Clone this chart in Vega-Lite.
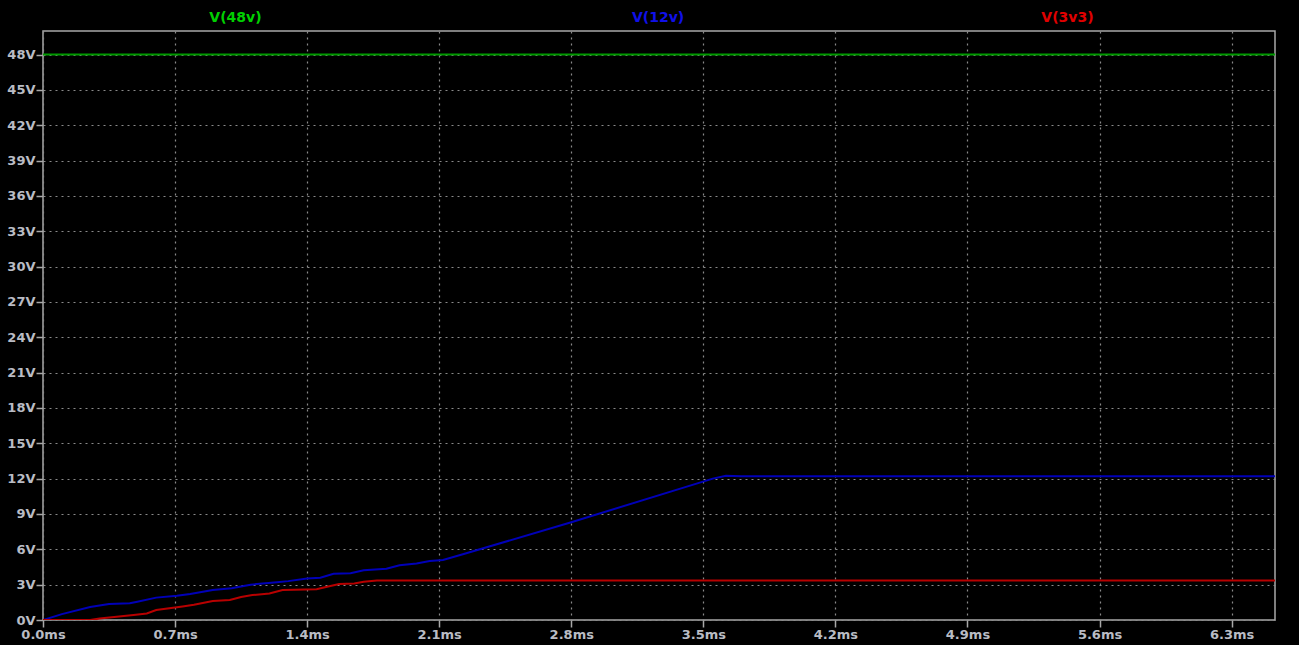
{
  "$schema": "https://vega.github.io/schema/vega-lite/v6.json",
  "autosize": {"type": "none"},
  "width": 1232,
  "height": 589,
  "padding": {"left": 43, "top": 31, "right": 24, "bottom": 25},
  "background": "#000000",
  "config": {
    "view": {"stroke": "#a8a8a8", "strokeWidth": 1.5, "fill": "#000000"},
    "axis": {
      "labelFont": "DejaVu Sans",
      "labelFontWeight": "bold",
      "labelFontSize": 13,
      "labelColor": "#b9bcc4",
      "labelOverlap": false,
      "tickColor": "#a8a8a8",
      "tickWidth": 1.5,
      "domain": false,
      "gridColor": "#8a8a8a",
      "gridDash": [2, 4],
      "gridWidth": 1.2,
      "title": null
    }
  },
  "datasets": {
    "traces": [
      {"s": "V(48v)", "t": 0, "v": 48},
      {"s": "V(48v)", "t": 6.53, "v": 48},
      {"s": "V(12v)", "t": 0, "v": 0},
      {"s": "V(12v)", "t": 0.1, "v": 0.5},
      {"s": "V(12v)", "t": 0.25, "v": 1.1},
      {"s": "V(12v)", "t": 0.35, "v": 1.35},
      {"s": "V(12v)", "t": 0.46, "v": 1.42},
      {"s": "V(12v)", "t": 0.5, "v": 1.55},
      {"s": "V(12v)", "t": 0.6, "v": 1.9},
      {"s": "V(12v)", "t": 0.71, "v": 2.05},
      {"s": "V(12v)", "t": 0.78, "v": 2.2},
      {"s": "V(12v)", "t": 0.9, "v": 2.55},
      {"s": "V(12v)", "t": 1.0, "v": 2.7},
      {"s": "V(12v)", "t": 1.1, "v": 3.0},
      {"s": "V(12v)", "t": 1.24, "v": 3.2},
      {"s": "V(12v)", "t": 1.3, "v": 3.3},
      {"s": "V(12v)", "t": 1.4, "v": 3.52},
      {"s": "V(12v)", "t": 1.47, "v": 3.58},
      {"s": "V(12v)", "t": 1.54, "v": 3.92},
      {"s": "V(12v)", "t": 1.63, "v": 3.97},
      {"s": "V(12v)", "t": 1.7, "v": 4.22},
      {"s": "V(12v)", "t": 1.82, "v": 4.35},
      {"s": "V(12v)", "t": 1.89, "v": 4.65},
      {"s": "V(12v)", "t": 1.98, "v": 4.8},
      {"s": "V(12v)", "t": 2.05, "v": 5.0},
      {"s": "V(12v)", "t": 2.12, "v": 5.1},
      {"s": "V(12v)", "t": 2.23, "v": 5.6},
      {"s": "V(12v)", "t": 2.8, "v": 8.3},
      {"s": "V(12v)", "t": 3.55, "v": 12.0},
      {"s": "V(12v)", "t": 3.62, "v": 12.25},
      {"s": "V(12v)", "t": 3.7, "v": 12.2},
      {"s": "V(12v)", "t": 6.53, "v": 12.2},
      {"s": "V(3v3)", "t": 0, "v": 0},
      {"s": "V(3v3)", "t": 0.25, "v": 0},
      {"s": "V(3v3)", "t": 0.3, "v": 0.12},
      {"s": "V(3v3)", "t": 0.48, "v": 0.42},
      {"s": "V(3v3)", "t": 0.55, "v": 0.55},
      {"s": "V(3v3)", "t": 0.6, "v": 0.85},
      {"s": "V(3v3)", "t": 0.74, "v": 1.15},
      {"s": "V(3v3)", "t": 0.8, "v": 1.3},
      {"s": "V(3v3)", "t": 0.9, "v": 1.62},
      {"s": "V(3v3)", "t": 0.99, "v": 1.7},
      {"s": "V(3v3)", "t": 1.05, "v": 1.95},
      {"s": "V(3v3)", "t": 1.11, "v": 2.12},
      {"s": "V(3v3)", "t": 1.2, "v": 2.25},
      {"s": "V(3v3)", "t": 1.27, "v": 2.54},
      {"s": "V(3v3)", "t": 1.45, "v": 2.62},
      {"s": "V(3v3)", "t": 1.5, "v": 2.8},
      {"s": "V(3v3)", "t": 1.57, "v": 3.05},
      {"s": "V(3v3)", "t": 1.65, "v": 3.1},
      {"s": "V(3v3)", "t": 1.7, "v": 3.25},
      {"s": "V(3v3)", "t": 1.77, "v": 3.35},
      {"s": "V(3v3)", "t": 6.53, "v": 3.35}
    ],
    "labels": [
      {"s": "V(48v)", "t": 1.02, "v": 51.1},
      {"s": "V(12v)", "t": 3.26, "v": 51.1},
      {"s": "V(3v3)", "t": 5.43, "v": 51.1}
    ]
  },
  "encoding": {
    "x": {
      "field": "t", "type": "quantitative",
      "scale": {"domain": [0, 6.53], "nice": false, "zero": false},
      "axis": {
        "values": [0, 0.7, 1.4, 2.1, 2.8, 3.5, 4.2, 4.9, 5.6, 6.3],
        "labelExpr": "format(datum.value, '.1f') + 'ms'",
        "tickSize": 7, "labelPadding": 1, "labelFlush": false
      }
    },
    "y": {
      "field": "v", "type": "quantitative",
      "scale": {"domain": [0, 50], "nice": false},
      "axis": {
        "values": [0, 3, 6, 9, 12, 15, 18, 21, 24, 27, 30, 33, 36, 39, 42, 45, 48],
        "labelExpr": "datum.value + 'V'",
        "tickSize": 7, "labelPadding": 1
      }
    }
  },
  "layer": [
    {
      "data": {"name": "traces"},
      "mark": {"type": "line", "strokeWidth": 2, "clip": true},
      "encoding": {
        "color": {
          "field": "s", "type": "nominal",
          "scale": {"domain": ["V(48v)", "V(12v)", "V(3v3)"], "range": ["#009a00", "#0000b8", "#b80000"]},
          "legend": null
        },
        "order": {"field": "t", "type": "quantitative"}
      }
    },
    {
      "data": {"name": "labels"},
      "mark": {"type": "text", "font": "DejaVu Sans", "fontWeight": "bold", "fontSize": 14, "baseline": "middle", "align": "center"},
      "encoding": {
        "text": {"field": "s"},
        "color": {
          "field": "s", "type": "nominal",
          "scale": {"domain": ["V(48v)", "V(12v)", "V(3v3)"], "range": ["#00d000", "#1010e8", "#e00000"]},
          "legend": null
        }
      }
    }
  ],
  "resolve": {"scale": {"color": "independent"}}
}
